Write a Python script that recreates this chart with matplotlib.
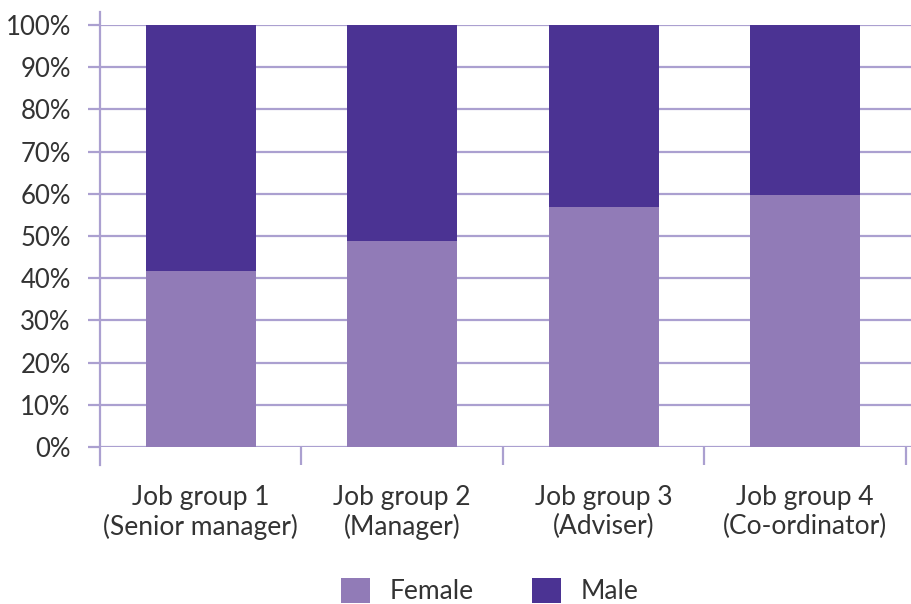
import numpy as np
import matplotlib.pyplot as plt
from matplotlib.lines import Line2D
from matplotlib.ticker import FixedLocator

plt.rcParams['font.family'] = ['Lato', 'DejaVu Sans']

# Данные
groups = ['Job group 1\n(Senior manager)', 'Job group 2\n(Manager)',
          'Job group 3\n(Adviser)', 'Job group 4\n(Co-ordinator)']
female = np.array([41.7, 48.8, 56.9, 59.7])
male = 100 - female

female_col = '#917bb7'
male_col = '#4b3393'
grid_col = '#aba0d0'
text_col = '#333333'

fig = plt.figure(figsize=(9.12, 6.04), dpi=100)
ax = fig.add_axes([100 / 912, 1 - 447 / 604, 812 / 912, 422 / 604])

x = np.arange(len(groups))
ax.bar(x, female, width=0.546, color=female_col, label='Female', zorder=3)
ax.bar(x, male, width=0.546, bottom=female, color=male_col, label='Male', zorder=3)

ax.set_xlim(-0.5, 3.53)
ax.set_ylim(0, 100)
ax.set_yticks(np.arange(0, 101, 10))
ax.set_yticklabels([f'{v}%' for v in range(0, 101, 10)])
ax.yaxis.grid(True, color=grid_col, linewidth=1.6, zorder=0)
ax.set_axisbelow(True)

ax.set_xticks(x)
ax.set_xticklabels(groups, linespacing=1.2)
ax.xaxis.set_minor_locator(FixedLocator([0.5, 1.5, 2.5, 3.5]))
ax.tick_params(axis='x', which='major', length=0, pad=27, labelsize=19, labelcolor=text_col)
ax.tick_params(axis='x', which='minor', length=13, width=1.6, color=grid_col)
ax.tick_params(axis='y', length=9, width=1.6, color=grid_col, pad=12,
               labelsize=18.5, labelcolor=text_col)

for s in ['top', 'right', 'bottom']:
    ax.spines[s].set_visible(False)
ax.spines['left'].set_visible(False)
ax.add_line(Line2D([0, 0], [-0.043, 1.031], transform=ax.transAxes,
                   color=grid_col, linewidth=1.6, clip_on=False, zorder=2))

fig.legend(loc='lower center', bbox_to_anchor=(0.537, -0.04), ncol=2, frameon=False,
           fontsize=19, handlelength=1.1, handleheight=1.1, columnspacing=2.2,
           handletextpad=0.75, labelcolor=text_col)

fig.savefig('out.png', dpi=100)
